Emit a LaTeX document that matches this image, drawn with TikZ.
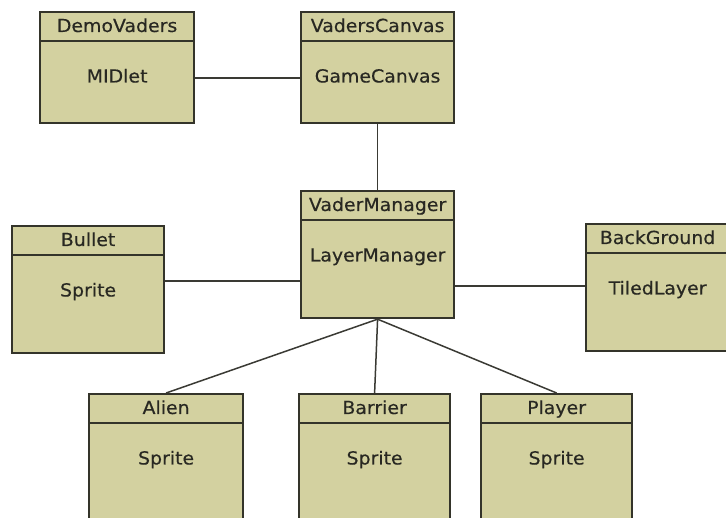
\documentclass[tikz,border=0pt]{standalone}
\usepackage{fontspec}
\setmainfont{DejaVu Sans}[FakeStretch=1.05,FakeBold=0.4]
\usepackage{tikz}

\definecolor{classfill}{RGB}{211,209,160}
\definecolor{classdraw}{RGB}{52,52,42}
\definecolor{classtext}{RGB}{40,40,34}
\definecolor{linkdraw}{RGB}{58,58,52}

% one class box: name, x, y, width, height, class, parent class
\newcommand{\umlclass}[7]{%
	\node [classbox,minimum width=#4pt,minimum height=#5pt] (#1) at (#2,#3) {};
	\draw [classdraw,line width=1.8pt] ([yshift=-30pt]#1.north west) -- ([yshift=-30pt]#1.north east);
	\node [classname] (#1-name) at ([yshift=-16.5pt]#1.north) {#6};
	\node [classname] (#1-base) at ([yshift=-67pt]#1.north) {#7};
}

\begin{document}
\begin{tikzpicture}[x=1pt,y=-1pt,
	classbox/.style={draw=classdraw,fill=classfill,line width=2.2pt,anchor=north west,inner sep=0pt},
	classname/.style={text=classtext,font=\fontsize{18}{20}\selectfont,inner sep=0pt,text height=13pt,text depth=4pt},
	link/.style={draw=linkdraw,line width=1.5pt}]
		\clip (0,0) rectangle (726,518);
		% boxes
		\umlclass{demo}{39}{11}{154}{111}{DemoVaders}{MIDlet}
		\umlclass{canvas}{300}{11}{153}{111}{VadersCanvas}{GameCanvas}
		\umlclass{mgr}{300}{190}{153}{127}{VaderManager}{LayerManager}
		\umlclass{bullet}{11}{225}{152}{127}{Bullet}{Sprite}
		\umlclass{bg}{585}{223}{143}{127}{BackGround}{TiledLayer}
		\umlclass{alien}{88}{393}{154}{135}{Alien}{Sprite}
		\umlclass{barrier}{298}{393}{151}{135}{Barrier}{Sprite}
		\umlclass{player}{480}{393}{151}{135}{Player}{Sprite}
		% links
		\draw [link] ([yshift=-10.5pt]demo.east) -- ([yshift=-10.5pt]canvas.west);
		\draw [link] (canvas.south) -- (mgr.north);
		\draw [link] ([yshift=8.5pt]bullet.east) -- ([yshift=-26.5pt]mgr.west);
		\draw [link] ([yshift=-31.5pt]mgr.east) -- ([yshift=1.5pt]bg.west);
		\draw [link] (mgr.south) -- (alien.north);
		\draw [link] (mgr.south) -- (barrier.north);
		\draw [link] (mgr.south) -- (player.north);
\end{tikzpicture}
\end{document}
